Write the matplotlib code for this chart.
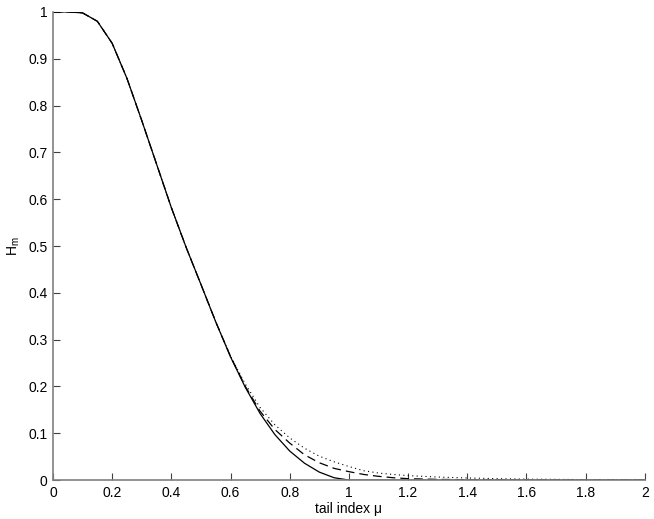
import matplotlib
matplotlib.use("Agg")
import matplotlib.pyplot as plt
from matplotlib.ticker import FormatStrFormatter, FuncFormatter

plt.rcParams["font.family"] = ["Liberation Sans", "DejaVu Sans"]
plt.rcParams["mathtext.fontset"] = "custom"
plt.rcParams["mathtext.rm"] = "Liberation Sans"

# tail index grid (0.05 steps up to 1.3, coarser after)
mu = [0.0, 0.05, 0.1, 0.15, 0.2, 0.25, 0.3, 0.35, 0.4, 0.45, 0.5, 0.55,
      0.6, 0.65, 0.7, 0.75, 0.8, 0.85, 0.9, 0.95, 1.0, 1.05, 1.1, 1.15,
      1.2, 1.3, 1.4, 1.5, 1.6, 1.7, 1.8, 1.9, 2.0]

h_solid = [1.0, 1.0, 0.998, 0.980, 0.933, 0.858, 0.768, 0.675, 0.582, 0.497,
           0.418, 0.338, 0.263, 0.198, 0.142, 0.097, 0.062, 0.036, 0.017,
           0.005, 0.0, 0.0, 0.0, 0.0, 0.0, 0.0, 0.0, 0.0, 0.0, 0.0, 0.0,
           0.0, 0.0]

h_dashed = [1.0, 1.0, 0.998, 0.980, 0.933, 0.858, 0.768, 0.675, 0.582, 0.497,
            0.418, 0.338, 0.264, 0.200, 0.147, 0.108, 0.079, 0.054, 0.037,
            0.025, 0.018, 0.012, 0.008, 0.005, 0.003, 0.0015, 0.0008,
            0.0005, 0.0003, 0.0002, 0.0001, 0.0001, 0.0001]

h_dotted = [1.0, 1.0, 0.998, 0.980, 0.933, 0.858, 0.768, 0.675, 0.582, 0.497,
            0.418, 0.338, 0.265, 0.205, 0.155, 0.118, 0.090, 0.068, 0.051,
            0.039, 0.029, 0.020, 0.015, 0.012, 0.0095, 0.0065, 0.0045,
            0.003, 0.002, 0.0015, 0.001, 0.0007, 0.0005]

x_ticks = [0, 0.2, 0.4, 0.6, 0.8, 1.0, 1.2, 1.4, 1.6, 1.8, 2.0]
y_ticks = [0, 0.1, 0.2, 0.3, 0.4, 0.5, 0.6, 0.7, 0.8, 0.9, 1.0]

fig = plt.figure(figsize=(6.54, 5.19), dpi=100)
ax = fig.add_axes([0.081, 0.075, 0.905, 0.902])

ax.plot(mu, h_dotted, color="black", linewidth=0.8, linestyle=(0, (1, 3)))
ax.plot(mu, h_dashed, color="black", linewidth=0.9, linestyle=(0, (7, 4)))
ax.plot(mu, h_solid, color="black", linewidth=0.9)

ax.set_xlim(0, 2)
ax.set_ylim(0, 1)
ax.set_xticks(x_ticks)
ax.set_yticks(y_ticks)
fmt = FuncFormatter(lambda v, p: "%g" % round(v, 2))
ax.xaxis.set_major_formatter(fmt)
ax.yaxis.set_major_formatter(fmt)

for side in ["top", "right"]:
    ax.spines[side].set_visible(False)
for side in ["left", "bottom"]:
    ax.spines[side].set_color("#808080")
    ax.spines[side].set_linewidth(1.2)

ax.tick_params(direction="in", length=5, width=0.8, color="#404040",
               labelsize=10, pad=4)

ax.set_xlabel("tail index \u03bc", fontsize=10, labelpad=2)
ax.set_ylabel("H$_{\\mathrm{m}}$", fontsize=10, labelpad=4)

fig.savefig("out.png", dpi=100)
